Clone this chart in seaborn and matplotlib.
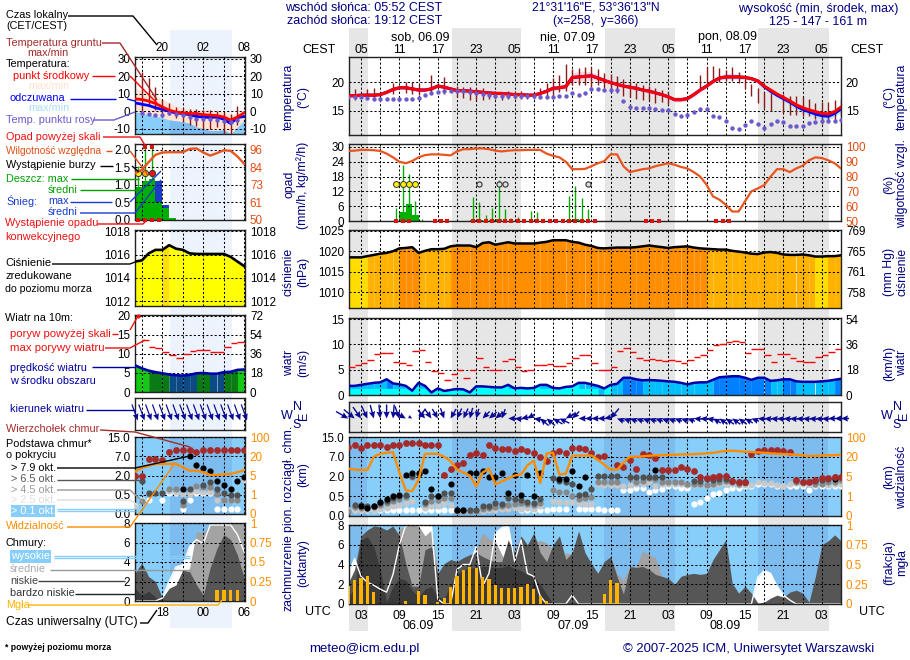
import numpy as np
import matplotlib
matplotlib.use("Agg")
import matplotlib.pyplot as plt
import seaborn as sns

sns.set_theme(style="white")
plt.rcParams["font.family"] = ["Liberation Sans", "DejaVu Sans"]
plt.rcParams["font.size"] = 9
plt.rcParams["axes.linewidth"] = 1.0

n = np.nan
W, H = 910, 660

# ------------------- main meteogram, hourly, hours from 06.09 00 UTC
hours = np.arange(1, 79)
temp = [17.6,17.6,17.7,17.7,17.7,17.8,18.2,18.7,19.0,19.0,
        18.8,18.6,18.6,18.8,19.3,19.1,18.8,18.5,18.5,18.4,
        18.3,18.2,18.1,18.0,18.0,17.9,17.8,17.8,17.7,17.7,
        18.0,18.4,18.9,19.0,19.2,20.8,20.9,21.0,21.1,20.7,
        20.3,19.9,19.6,19.3,19.1,18.9,18.6,18.4,18.1,17.8,
        17.4,16.9,16.9,17.1,17.8,18.6,19.3,20.1,20.7,20.9,
        20.9,20.9,20.8,20.6,20.2,19.3,18.6,17.9,17.3,16.7,
        16.0,15.5,15.1,14.8,14.5,14.4,14.8,15.6]
apparent = [17.6,17.6,17.7,17.7,17.7,17.8,18.2,18.7,19.0,19.0,
            18.8,18.6,18.6,18.8,19.3,19.1,18.8,18.5,18.5,18.4,
            18.3,18.2,18.1,18.0,18.0,17.9,17.8,17.8,17.7,17.7,
            18.0,18.4,18.9,19.0,19.2,20.8,20.9,21.0,21.1,20.7,
            20.3,19.9,19.6,19.3,19.1,18.9,18.6,18.4,18.1,17.8,
            17.4,16.9,16.9,17.1,17.8,18.6,19.3,20.1,20.7,20.9,
            20.9,20.9,20.8,20.6,20.2,19.2,18.4,17.7,17.1,16.5,
            15.8,15.2,14.8,14.4,14.1,14.0,14.5,15.3]
temp_hi = [17.9,18,18,18,18,18.1,18.6,19.1,19.4,19.4,
           19.2,19,19,19.2,19.7,19.5,19.2,18.9,18.9,18.8,
           18.7,18.6,18.5,18.3,18.3,18.2,18.1,18.1,18,18,
           18.3,18.8,19.3,19.4,19.8,21.6,21.9,21.9,21.8,21.3,
           20.8,20.4,20,19.7,19.5,19.3,19,18.8,18.5,18.2,
           17.8,17.4,17.4,17.5,18.2,19,19.7,20.5,21.2,21.5,
           21.5,21.4,21.3,21,20.5,19.6,18.9,18.2,17.6,17,
           16.3,15.9,15.5,15.2,14.9,14.8,15.2,16]
temp_lo = [17.3,17.3,17.4,17.4,17.4,17.5,17.9,18.4,18.7,18.7,
           18.5,18.3,18.3,18.5,19,18.8,18.5,18.2,18.2,18.1,
           18,17.9,17.8,17.7,17.7,17.6,17.5,17.5,17.4,17.4,
           17.7,18.1,18.5,18.6,18.8,20,20.1,20.2,20.4,20.1,
           19.7,19.4,19.2,18.9,18.7,18.5,18.2,18,17.7,17.4,
           17,16.5,16.5,16.7,17.4,18.2,18.9,19.7,20.3,20.5,
           20.5,20.5,20.4,20.2,19.8,18.9,18.1,17.3,16.6,15.9,
           15.2,14.6,14.2,13.8,13.5,13.4,13.9,14.8]
dewpoint = [17.4,17.4,17.3,17.2,17.1,17.0,17.0,17.0,17.0,17.0,
            17.1,17.2,17.8,18.0,18.3,18.4,18.5,18.5,18.4,18.2,
            18.0,17.9,17.7,17.5,17.5,17.5,17.5,17.5,17.5,17.5,
            17.4,17.4,17.4,17.5,17.6,18.0,17.7,18.0,18.7,18.7,
            18.6,18.6,18.6,16.6,15.6,15.5,15.5,15.4,15.2,15.1,
            15.1,14.4,14.1,14.3,14.7,15.2,15.2,14.0,13.8,13.2,
            12.0,11.7,12.5,13.2,12.6,12.0,12.6,13.2,13.0,12.2,
            12.3,12.2,12.8,13.0,13.1,13.2,13.2,13.4]
ground_hi = [n,18.8,n,18.8,18.9,n,n,19.9,n,20.0,
             20.0,19.6,n,21.3,n,20.8,n,19.3,19.2,19.1,
             19.0,18.9,18.5,18.4,18.3,18.4,18.4,18.4,18.1,18.2,
             19.0,19.8,20.7,21.3,23.2,22.3,22.5,22.6,22.7,22.3,
             21.6,21.5,21.0,20.5,20.0,19.8,19.5,19.3,18.9,18.6,
             18.3,n,n,n,n,21.2,22.6,22.9,22.5,22.2,
             22.6,21.7,20.3,19.6,18.9,18.2,18.0,n,17.9,17.6,
             17.5,17.3,17,16.4,16.5,16.5,16.8,17]
ground_lo = [n,16.9,n,17.0,17.1,n,n,17.9,n,18.0,
             17.9,17.7,n,18.0,n,17.9,n,17.4,17.2,16.9,
             16.9,16.9,17.0,17.0,16.9,17.0,17.1,17.1,17.0,17.1,
             17.2,17.4,17.6,18.2,18.5,19.5,19.5,19.4,19.2,19.4,
             19.0,18.4,18.0,17.5,17.3,17.0,16.9,16.8,16.4,16.5,
             16.2,n,n,n,n,19,19.3,20,20,20.1,
             20.2,19.9,19.0,17.6,16.3,15.5,15,n,14.5,14.2,
             14.2,14.1,14,13.5,12.7,12.9,13,14]

humidity = [97.3,97.5,98,98,97.8,97.3,95.5,93,90,89,
            90.5,93,94.5,95,95,94.7,94.3,97,98.5,98.5,
            99,99,98.5,97.5,97,97.5,97.8,97.8,98,98,
            98,95.5,94,93,90,85,85,85.2,87,89,
            90.4,95,95,87,83,84,85,85.5,87,88,
            89,88,86.5,85.5,83,80,74.5,66.6,64.4,61,
            56.4,56.4,63.3,70,72,74.2,80,85,85,83,
            85.5,87.3,91,93,92.5,91,89,85.5]
rain_max_hours = [8.5,9.5,10.5,11.5,12.5,20.5,21.5,22.5,23.5,24.5,25.5,26.5,27.5,
                  29.5,30.5,31.5,35.5,36.5,37.5,38.5]
rain_max = [5.3,22.8,19,8,1,9.8,7.7,2.5,5.3,16.5,5,1.3,1.5,
            4,3.7,0.8,10,14,9.3,5]
rain_mean_hours = [9.5,10.5,11.5,20.5,21.5,23.5,24.5,35.5,36.5,37.5]
rain_mean = [3.5,7,2.5,0.3,0.3,0.4,1,0.3,0.7,0.3]
conv_hours = [8.5,9.5,10.5,14.5,15.5,16.5,20.5,21.5,22.5,23.5,24.5,25.5,26.5,27.5,28.5,
              29.5,30.5,31.5,32.5,33.5,34.5,35.5,36.5,37.5,38.5,39.5,47.5,48.5,49.5,58.5,59.5,60.5]
storm_hours = [8.5,9.5,10.5,11.5]
storm_weak_hours = [21.5,24.5,25.5,38.5]

pressure = [1018.5,1018.5,1018.5,1018.8,1019.1,1019.4,1019.6,1020,1020.7,1020.8,
            1021,1019.6,1020.1,1020.5,1020.5,1020.6,1021.2,1021.4,1021.4,1021.4,
            1021,1022,1022.2,1021.6,1021.9,1022.2,1021.9,1021.9,1021.9,1021.9,
            1022.1,1022.3,1022.7,1022.7,1022.7,1022.3,1022.1,1021.6,1021.3,1020.8,
            1020.7,1020.8,1020.9,1020.9,1020.9,1021,1021.2,1021.4,1021.2,1021,
            1020.8,1021,1021.1,1021.2,1020.9,1020.7,1020.6,1020.5,1020.4,1020.4,
            1020.1,1019.9,1019.7,1019.4,1019.3,1019.7,1019.8,1019.6,1019.2,1019.1,
            1019.1,1019.2,1019,1018.7,1018.7,1018.8,1018.8,1019]

wind = [1.8,1.8,2,2.2,2.4,2.5,3.1,2.3,2.1,1.8,
        0.85,2.4,1.8,0.5,1.3,0.8,1,1.2,1.1,0.5,
        1.7,1.7,1.6,1.5,1.5,2,1.3,1.4,1.3,1.4,
        2,2,1.4,1.3,1.6,1.7,2.4,2.4,2.1,1.8,
        1.3,2,2.2,3.4,3.4,3.1,2.9,2.95,2.9,2.8,
        2.7,2.6,2.4,2.1,2.4,2.5,2.5,3,3.5,3.6,
        3.7,3.7,3.4,3,3.4,3.4,2.8,2.9,3.1,3.1,
        2.7,2.6,2.6,2.6,2.7,2.8,3,3.2]
gust = [5.5,5.9,6.3,7,8,8.3,8.3,6.6,6.4,5.9,
        8.6,8.8,6.6,4.7,4.3,2.9,4.1,4.9,3.3,5,
        7.4,5.5,4.9,4.9,6.8,7.2,5.5,4.7,4.9,6,
        6,6.2,5.7,5.7,6.4,7.4,7.8,7.8,6.4,4.9,
        4.9,5.5,8.6,9.2,8.4,7.4,7,7.2,7,6.8,
        7,6.8,6.4,7,7.6,7.8,8.8,9.8,10,10.4,
        10.6,10.4,8.2,9,9,7.8,6.6,8,8,7.4,
        6.8,6.6,6.6,7.6,7.8,8.4,9]
wind_dir = [300,310,325,335,345,355,0,5,340,300,
            300,35,320,325,330,340,30,25,25,15,
            15,45,50,50,20,90,95,80,60,100,
            130,130,120,115,60,45,90,90,90,90,
            80,40,110,110,110,110,110,110,110,110,
            110,110,110,110,95,95,100,120,125,125,
            125,125,120,110,95,95,95,95,95,95,
            95,95,95,95,95,90,90,90]
wind_len = [14,14,14,14,14,14,14,14,13,12,
            4,12,11,11,11,11,11,11,11,11,
            10,10,10,10,10,8,8,8,8,10,
            11,11,11,11,10,10,8,8,8,8,
            8,13,8,8,8,8,8,8,8,8,
            8,8,8,8,8,8,8,9,10,10,
            10,10,9,8,8,8,8,8,8,8,
            8,8,8,8,8,8,8,8]

# cloud base panel values are given in positions of its stepped scale (0..4 = 0, 0.5, 2, 7, 15 km)
cloud_top = [3.5,3.6,3.45,3.6,3.6,3.6,3.5,3.6,3.6,3.7,
             3.7,3.7,3.6,3.6,3.6,2.1,2.4,2.6,2.7,3.1,
             3.2,3.1,3.6,3.45,3.4,3.4,3.3,3.4,3.3,3.2,
             3,2.8,3.2,3.3,3.2,3.45,3.45,3.4,3.2,3,
             3.05,n,2.6,2.5,2.85,2.4,3.15,3.1,2.95,2.35,
             2.35,2.35,2.5,2.4,2.3,2,1.9,2,2.05,2.05,
             1.75,1.7,1.7,3.15,3.3,3.35,3.35,3.35,3.27,3.25,
             1.8,1.7,1.7,1.8,1.9,1.9,2,2]
base_black = [n,n,.5,.4,.5,.73,.85,1,1.07,2.1,
              2.2,2.2,2.3,1.36,1,n,1.6,.3,.3,2.2,
              2.2,2.3,2,2,2.2,1.15,2.1,1.07,2.1,1,
              2.2,n,n,1.85,1.85,2.3,1.5,2,n,n,
              n,n,n,n,n,n,n,n,2.35,n,
              n,n,n,n,n,n,n,n,n,n,
              n,n,n,n,n,n,n,n,n,n,
              n,n,n,n,n,n,1.85,n]
base_dark = [n,.55,.55,.5,.5,.65,.75,.9,1,1.05,
             2.05,2.15,.73,1.03,1,1.15,1.15,.28,.28,.28,
             .28,.5,.5,.65,.6,.9,.85,.8,.7,.65,
             .85,n,1.9,1.75,1.7,1.6,1.05,1.1,1.35,2.05,
             2.05,2.05,2.05,n,2,2,2,2,2,2,
             n,n,n,n,1.75,1.75,1.85,1.8,1.85,1.85,
             1.75,1.7,1.7,n,n,n,n,n,n,n,
             n,n,n,1.75,1.8,1.85,1.95,1.95]
base_grey = [.25,.45,.4,.4,.45,.55,.65,.75,.85,.95,
             2,n,.6,.75,.8,.9,.9,.25,.25,.25,
             .25,.35,.4,.45,.5,.55,.6,.65,.6,.55,
             .65,n,1.3,1.2,1.2,1,.85,.9,.95,1.7,
             1.7,1.7,1.7,n,1.9,1.7,1.75,1.9,1.85,1.7,
             1.7,1.7,1.7,1.6,1.6,1.6,1.55,1.6,1.7,1.75,
             1.7,1.6,1.65,n,n,n,n,n,n,n,
             1.7,1.7,1.75,1.6,1.6,1.7,1.7,1.8]
base_light = [.3,.3,.3,.3,.3,.35,.4,.5,.55,.65,
              .75,n,.4,.5,.5,.65,.55,.25,.25,.25,
              .25,.25,.3,.3,.35,.35,.4,.35,.4,.35,
              .5,n,.75,.7,.7,.7,.65,.6,.6,1.6,
              1.55,1.55,1.55,1.5,1.55,1.6,1.6,1.7,1.5,1.6,
              1.6,1.6,1.6,1.55,1.55,1.55,1.5,1.55,1.6,1.6,
              1.6,1.55,1.55,1.55,1.7,1.65,1.65,1.55,1.5,1.6,
              1.65,1.6,1.6,1.55,1.6,1.55,1.6,1.6]
base_white = [.3,.3,.3,.3,.3,.3,.3,.3,.3,.3,
              .3,.3,.3,.3,.3,.3,.3,n,n,n,
              n,n,n,n,n,n,n,.3,.3,.3,
              .3,.3,.35,.35,.35,n,.35,.35,.35,.35,
              .3,.3,.3,1.3,1.3,1.4,1.4,1.2,1.3,1.35,
              1.5,1.5,1.4,1.4,.6,.7,.9,1.1,1.15,1.3,
              1.4,1.4,1.5,1.5,1.6,1.6,1.6,1.5,1.5,1.5,
              1.5,1.5,1.3,1.5,1.5,1.5,1.5,1.53]
visibility = [2.4,2.35,2.33,2.33,3,3.15,3.2,3.23,2.2,1.3,
              1.26,1.84,3.15,3.15,3.15,3,2.77,2.35,2.2,2.05,
              1.5,2.2,2.4,1.6,1.75,1.9,2.05,2.1,2.57,2.8,
              1.67,3.17,3.2,2.1,2.14,3.06,3.06,3.06,3.06,2.85,
              2.6,2.35,2.35,2.7,3,3,3.02,3.05,3.07,3.08,
              3.1,3.1,3.12,3.12,3.13,3.15,3.17,3.2,3.25,3.3,
              3.3,3.28,3.26,3.24,3.22,3.2,3.17,3.15,3.14,3.12,
              3.1,3.08,3.03,3.05,3.06,3.07,3.08,3.1]

cloud_high = [3.0,4.6,2.8,2.2,1.9,1.5,1.2,3.0,6.0,8.0,
              8,8,8,8,0.5,0,0,3.5,4,4,
              5.8,1.8,3.1,7.2,7.7,8,4.3,6.5,3.1,2.8,
              0.8,0,0,0,0,0.9,0,0,0,0,
              0,0,0,0,0,0,0,0,0,0,
              0,0,0,0,0,0,0,0,0,0,
              0,0,0,0,2.7,3.4,3.1,1.8,0.9,0.4,
              0,0,0,0,0,0,0,0]
cloud_mid = [2,3,4,4,4,4,5,6,7.6,7.9,
             8,7.9,6.9,7.5,3.5,1,2,3,3.5,4,
             5.5,7.2,6.6,6.3,5,4,4,4,5.8,6.4,
             6.4,6.2,5.5,4,5.2,5,4.9,4.5,3.1,3.2,
             4,4.8,3.1,2.4,3.8,3.8,5.4,5,4.7,2.8,
             2.5,2,2.8,1,0,0,0,0,0,0,
             0,0,0,0,0,0,0,0,0,0,
             0,0,0,0,0,0,0,0]
cloud_low = [2.1,3.5,6.9,7.5,7.9,7.8,7.5,7.9,6.9,4.1,
             1.8,1.8,5.5,5.8,3.1,4.1,4.5,4.3,4.7,5,
             5.2,4.8,4.5,4.3,4.3,6.5,5.2,6.9,6,7.2,
             5.2,4.3,6,6.9,4.5,5.2,7.4,5.2,4.1,3.1,
             4.3,4.8,2.8,1,3.8,3.7,3.8,3.5,3,2.8,
             2.6,2,2.8,3,3.1,3,3.1,4.5,5.5,6.5,
             2.1,1.1,1.8,1.1,0.1,0.2,0.6,0.9,0.7,1.2,
             1.4,1.1,0.2,2.8,6,6.4,7,6.4]
cloud_vlow = [0.8,1.5,6.5,6.8,5.8,3.5,0.2,1.8,2.6,2.4,
              1.4,.7,1.5,1.8,.8,.5,2,3,3.5,3.6,
              3.7,3.8,3.8,3.7,3.7,3.9,3.6,3.4,3,2.8,
              2,1,0,0,0,0,0,0,0,0,
              0,0,0,0,0,0,0,0,0,0,
              0,0,0,0,0,0,0,0,0,0,
              0,0,0,0,0,0,0,0,0,0,
              0,0,0,0,0,0,0,0]
fog = [.23,.3,.33,.36,.15,0,0,0,0,.04,
       0,.16,.11,0,.03,.08,.22,.36,.43,.47,
       .46,.34,.32,.24,.2,.2,.2,.22,.25,.19,
       .1,.04,0,0,0,0,0,0,0,0,
       .13,.3,.26,0,0,0,0,0,0,0,
       0,0,0,0,0,0,0,0,0,0,
       0,0,0,0,0,0,0,0,0,0,
       0,0,0,0,0,0,0,0]

# ------------------- legend meteogram, hours 14..30
lhours = np.arange(14, 31)
l_temp = [7.1,6.7,5.8,4.4,2.5,.6,-.4,-1,-1.3,-1.3,-2,-2.2,-2.5,-3.3,-5,-3.3,-.8]
l_app = [4.8,4,3.3,2,1,0,-1,-1.3,-2,-3,-3.3,-3.6,-3.3,-4.6,-7,-3.6,-3]
l_temp_max = [13,12,11,9,7,5,3,2,1.5,1,1,.5,.5,0,-2,-1,.5]
l_app_min = [-.4,-1,-2,-3,-3.5,-5,-5.5,-6,-7,-9,-10,-11,-11,-10.5,-13,-9,-5]
l_dew = [n,-1,-1.7,-2.3,-2.3,-1,-1.3,-2.3,-3.3,-4.2,-4.6,-4.6,-5.2,-5.6,-6.2,-4.8,n]
l_ground_hi = [n,22.7,19,14,6.5,4.5,2.5,2,1.5,1.5,1,.5,0,-.5,-1.5,3,n]
l_ground_lo = [n,0,3.5,.5,-1,-2.3,-4,-6,-8,-8.5,-10,-10,-9,-13,-13,-8,n]
l_humidity = [80.7,83,88,92.8,94.3,94.5,94.5,94.5,96.7,97,94.3,92.3,93.9,95.8,95.4,91.7,86.8]
l_rain_hours = [14,15,16,17,18,19]
l_rain = [.95,1.1,1.17,.52,.33,.07]
l_snow_hours = [17,18]
l_snow_top = [1.1,.43]
l_snow_base = [.52,.33]
l_rain_max_hours = [14.5,15.5,16.5]
l_rain_max = [1.55,2.05,2.05]
l_over_hours = [15.5,16.5]
l_storm_hours = [14.5,15.5,16.5]
l_storm_colors = ["#ffee00", "#ffa500", "#ee1111"]
l_conv_hours = [14.5,15.5,16.5,17.5]
l_pressure = [1015.4,1015.5,1016.1,1016.4,1016.4,1016.8,1016.5,1016.4,1016.1,1016.05,1016.05,1016.05,1016.05,1016.05,1015.8,1015.4,1015]
l_wind = [7,6.2,5.6,5.2,4.9,4.6,4.4,4.3,4.5,4.9,5,4.8,4.8,5.2,5.3,5.8,5.9]
l_gust = [n,13.6,11.8,11.6,10.6,9.7,8.9,9.9,10.7,11,11,10.6,10.6,11.8,12.8,13.1]
l_dir = [340,340,340,340,340,340,340,340,340,340,340,340,340,340,340,340,340]
l_top = [2,2,2.85,2.85,2.8,3.23,3.3,3.3,3.3,3.23,3.3,3.3,3.3,3.3,3.3,3.3,3.3]
l_black = [n,n,n,n,n,n,n,1.28,3,2.55,2.37,2.25,1.7,1.5,1.28,1.7,1.9]
l_dark = [2,1.7,1.1,1.1,1.1,n,n,.65,1.28,n,1.5,1.65,1.3,1.1,1,1,n]
l_grey = [n,.65,1.05,n,n,1.28,1.28,.45,n,1.45,1.4,1.4,1.05,.72,.72,.72,n]
l_light = [.4,n,n,n,n,1.2,1.15,1.05,1.05,1.2,1.15,1.15,.72,.72,.72,.72,1.75]
l_white = [n,.72,.72,n,.75,1.1,1.1,.25,.72,1.1,1.1,1.1,.25,.25,.25,.25,n]
l_vis = [2.2,2.4,2.5,2.6,2.6,2.6,2.6,2.43,2.25,2.25,2.17,2.03,2.03,2.06,2.08,2.17,2.28]
l_high = [0,0,0,0,.3,2,3.5,3.7,5.6,6.3,5.9,7.8,7.8,7.8,7.8,6.8,5]
l_mid = [0,0,0,0,0,0,1.5,2,3.4,7.1,7,7.8,8,8,8,8,8]
l_low = [2.85,3.9,2.5,2,.3,1.3,1.65,3.2,3,1.65,.6,3.4,5.4,6.8,6.3,4.7,2.3]
l_vlow = [1.3,.6,1,.4,0,0,0,0,0,0,0,0,0,0,0,0,0]
l_fog = [0,0,0,0,0,0,0,0,0,0,0,0,.14,.14,.14,.14,0]

# ------------------- ticks
cest_labels = ["05","11","17","23","05","11","17","23","05","11","17","23","05"]
utc_labels = ["03","09","15","21","03","09","15","21","03","09","15","21","03"]
label_hours = np.arange(3, 78, 6)
minor_hours = np.arange(6, 78, 6)
l_label_hours = [18, 24, 30]
l_minor_hours = [15, 21, 27]

NAVY = "#000080"
ORANGE = "#ff8c00"
RHCOL = "#e04e14"
SKY = "#87cefa"
SKY_NIGHT = "#7cbcee"
DUSK = "#6a5acd"
GROUND = "#8b1a1a"
TOPRED = "#a52a2a"
DASH = (0, (2, 2))
TICK = 8.4
HEAD = 9.0

fig = plt.figure(figsize=(W / 100, H / 100), dpi=100, facecolor="white")


def pixel_axes(x0, y0, x1, y1, z=1):
    return fig.add_axes([x0 / W, 1 - y1 / H, (x1 - x0) / W, (y1 - y0) / H], zorder=z)


def panel(box, xlim, ylim, yticks, ylabels, rlim, rticks, rlabels, rcolor, majors, minors, z=1):
    ax = pixel_axes(*box, z=z)
    ax.set_facecolor("none")
    ax.set_xlim(*xlim)
    ax.set_ylim(*ylim)
    ax.set_xticks(majors)
    ax.set_xticks(minors, minor=True)
    ax.set_yticks(yticks, ylabels)
    ax.tick_params(which="both", length=0, labelbottom=False, pad=3.5, labelsize=TICK, colors="black")
    ax.grid(True, which="both", color="black", linestyle=DASH, linewidth=0.75)
    ax.set_axisbelow(False)
    for s in ax.spines.values():
        s.set_color("#222222")
    tw = ax.twinx()
    tw.set_facecolor("none")
    tw.set_ylim(*rlim)
    tw.set_yticks(rticks, rlabels)
    tw.tick_params(length=0, pad=3.5, labelsize=TICK, labelcolor=rcolor)
    tw.grid(False)
    for s in tw.spines.values():
        s.set_visible(False)
    return ax, tw


def line(ax, x, y, color, lw, z=3):
    sns.lineplot(x=x, y=y, ax=ax, color=color, linewidth=lw, estimator=None, errorbar=None, zorder=z)


def dots(ax, x, y, color, size=20, z=4, **kw):
    sns.scatterplot(x=x, y=y, ax=ax, color=color, s=size, linewidth=0, zorder=z, legend=False, **kw)


def area_steps(ax, x, y, base, colors):
    # one trapezoid per hour, coloured by class of its first value
    for i in range(len(x) - 1):
        ax.fill_between(x[i:i + 2], y[i:i + 2], base, color=colors[i], linewidth=0, zorder=2, antialiased=False)


# ------------------- page background with night bands
bg = pixel_axes(0, 0, W, H, z=-1)
bg.set_xlim(0, W)
bg.set_ylim(H, 0)
bg.axis("off")
for a, b in [(349, 368), (452, 521), (605, 675), (758, 829)]:
    bg.axvspan(a, b, ymin=1 - 631 / H, ymax=1 - 28 / H, color="#e6e6e6", linewidth=0)
bg.axvspan(170, 232, ymin=1 - 628 / H, ymax=1 - 30 / H, color="#ecf3fd", linewidth=0)

main_xlim = (1.125, 78)
left_xlim = (14, 30.1)
night_main = [(1.125, 4), (17.2, 28), (41, 52), (65, 76)]
night_left = [(19.1, 28.2)]


def draw_temp(ax, x, t, a, gh, gl, dew, mid_w):
    ax.vlines(x, gl, gh, color=GROUND, linewidth=1, zorder=3)
    line(ax, x, a, "#0000ff", mid_w, z=4)
    line(ax, x, t, "#ff0000", mid_w, z=5)
    dots(ax, x, dew, DUSK, size=10, z=6)


def draw_base(ax, x, top, black, dark, grey, light, white, vis):
    ax.set_facecolor(SKY)
    dots(ax, x, white, "white")
    dots(ax, x, light, "#c8c8c8")
    dots(ax, x, grey, "#888888")
    dots(ax, x, dark, "#505050")
    dots(ax, x, black, "black")
    dots(ax, x, top, TOPRED, 24)
    line(ax, x, vis, ORANGE, 1.7, z=5)


def draw_clouds(ax, tw, x, high, mid, low, vlow, fg):
    ax.set_facecolor(SKY)
    ax.fill_between(x, high, 0, color="white", linewidth=0, zorder=1)
    ax.fill_between(x, mid, 0, color="#a3a3a3", linewidth=0, zorder=1.2)
    ax.fill_between(x, low, 0, color="#565656", linewidth=0, zorder=1.4)
    ax.fill_between(x, vlow, 0, color="#3a3a3a", linewidth=0, zorder=1.6)
    line(ax, x, high, "white", 1.0, z=2)
    tw.bar(x, fg, width=0.5, color="#ffb300", linewidth=0, zorder=5)


# ------------------- main panels
mx = dict(xlim=main_xlim, majors=label_hours, minors=minor_hours)

ax, tw = panel((349, 57, 841, 135), ylim=(10.7, 24.4), yticks=[15, 20], ylabels=["15", "20"],
               rlim=(10.7, 24.4), rticks=[15, 20], rlabels=["15", "20"], rcolor="black", **mx)
ax.fill_between(hours, temp_lo, temp_hi, color="#ffd6dc", linewidth=0, zorder=2)
ax.fill_between(hours[65:], temp_lo[65:], apparent[65:], color="#b8e4fa", linewidth=0, zorder=2.1)
draw_temp(ax, hours, temp, apparent, ground_hi, ground_lo, dewpoint, 2.2)
ax.xaxis.tick_top()
ax.set_xticks(label_hours, cest_labels)
ax.tick_params(axis="x", labeltop=True, labelbottom=False, pad=1, labelsize=8.8)

ax, tw = panel((349, 144, 841, 221), ylim=(0, 31.2), yticks=[0, 6, 12, 18, 24, 30],
               ylabels=["0", "6", "12", "18", "24", "30"],
               rlim=(50, 102), rticks=[50, 60, 70, 80, 90, 100],
               rlabels=["50", "60", "70", "80", "90", "100"], rcolor=RHCOL, **mx)
ax.bar(rain_mean_hours, rain_mean, width=1, color="#00b000", linewidth=0, zorder=2)
ax.vlines(rain_max_hours, 0, rain_max, color="#00b000", linewidth=1, zorder=2)
dots(ax, conv_hours, np.zeros(len(conv_hours)), "#e01010", size=9, marker="s", clip_on=False)
sns.scatterplot(x=storm_hours, y=[15] * 4, ax=ax, color="#ffee00", edgecolor="#333333", s=18, linewidth=0.7, zorder=5, legend=False)
sns.scatterplot(x=storm_weak_hours, y=[15] * 4, ax=ax, color="#dddddd", edgecolor="#333333", s=14, linewidth=0.8, zorder=5, legend=False)
line(tw, hours, humidity, "#e8551f", 1.6, z=6)

ax, tw = panel((349, 230, 841, 308), ylim=(1006.1, 1025.2), yticks=[1010, 1015, 1020, 1025],
               ylabels=["1010", "1015", "1020", "1025"], rlim=(1006.1, 1025.2), rticks=[1010, 1015, 1020, 1025],
               rlabels=["758", "761", "765", "769"], rcolor="black", **mx)
p_colors = ["#ffdd00" if v < 1018.8 else "#ffb300" if v < 1020.65 else "#ff8f00" for v in pressure]
area_steps(ax, hours, pressure, 1006.1, p_colors)
line(ax, hours, pressure, "black", 1.8, z=5)

ax, tw = panel((349, 318, 841, 395), ylim=(0, 15.2), yticks=[0, 5, 10, 15], ylabels=["0", "5", "10", "15"],
               rlim=(0, 15.2), rticks=[0, 5, 10, 15], rlabels=["0", "18", "36", "54"], rcolor="black", **mx)
w_colors = ["#00ffff" if v < 1.75 else "#00bfff" if v < 3 else "#0080ff" for v in wind]
area_steps(ax, hours, wind, 0, w_colors)
ax.fill_between(hours[:40], np.minimum(wind[:40], 1.3), 0, color="#00ffff", linewidth=0, zorder=2.2)
line(ax, hours, wind, "#0000a8", 1.8, z=5)
ax.hlines(gust, hours[:-1], hours[1:], color="#ff0000", linewidth=1, zorder=4)

ax, tw = panel((349, 402, 841, 432), ylim=(0, 1), yticks=[], ylabels=[],
               rlim=(0, 1), rticks=[], rlabels=[], rcolor="black", **mx)
rad = np.radians(wind_dir)
ax.quiver(hours, np.full(78, 0.45), -np.sin(rad) * wind_len, -np.cos(rad) * wind_len, angles="uv",
          scale_units="dots", scale=1, units="dots", width=1.4, headwidth=4.5, headlength=5,
          headaxislength=4.5, pivot="tip", color="#0a0a96", clip_on=False, zorder=4)

ax, tw = panel((349, 437, 841, 516), ylim=(0, 4), yticks=[0, 1, 2, 3, 4],
               ylabels=["0.0", "0.5", "2.0", "7.0", "15.0"], rlim=(0, 4), rticks=[0, 1, 2, 3, 4],
               rlabels=["0", "1", "5", "20", "100"], rcolor=ORANGE, **mx)
draw_base(ax, hours, cloud_top, base_black, base_dark, base_grey, base_light, base_white, visibility)
for a, b in night_main:
    ax.axvspan(a, b, color=SKY_NIGHT, linewidth=0, zorder=0.5)

ax, tw = panel((349, 525, 841, 604), ylim=(0, 8), yticks=[0, 2, 4, 6, 8], ylabels=["0", "2", "4", "6", "8"],
               rlim=(0, 1), rticks=[0, .25, .5, .75, 1], rlabels=["0", "0.25", "0.5", "0.75", "1"], rcolor=ORANGE, **mx)
draw_clouds(ax, tw, hours, cloud_high, cloud_mid, cloud_low, cloud_vlow, fog)
for a, b in night_main:
    ax.axvspan(a, b, color=SKY_NIGHT, linewidth=0, zorder=0.5)
ax.set_xticks(label_hours, utc_labels)
ax.tick_params(axis="x", labelbottom=True, pad=4, labelsize=8.8)

# ------------------- legend panels
lx = dict(xlim=left_xlim, majors=l_label_hours, minors=l_minor_hours)

ax, tw = panel((135, 57, 245, 134), ylim=(-13, 31), yticks=[-10, 0, 10, 20, 30], ylabels=["-10", "0", "10", "20", "30"],
               rlim=(-13, 31), rticks=[-10, 0, 10, 20, 30], rlabels=["-10", "0", "10", "20", "30"], rcolor="black", **lx)
ax.fill_between(lhours, l_temp_max, -13, color="#ffe4d6", linewidth=0, zorder=1.5)
ax.fill_between(lhours, l_app_min, -13, color=SKY, linewidth=0, zorder=1.6)
mask = (lhours >= 19) & (lhours <= 28)
ax.fill_between(lhours[mask], np.array(l_app_min)[mask], -13, color=SKY_NIGHT, linewidth=0, zorder=1.7)
draw_temp(ax, lhours, l_temp, l_app, l_ground_hi, l_ground_lo, l_dew, 2.0)
ax.xaxis.tick_top()
ax.set_xticks(l_label_hours, ["20", "02", "08"])
ax.tick_params(axis="x", labeltop=True, labelbottom=False, pad=2)

ax, tw = panel((135, 144, 245, 220), ylim=(0, 2.17), yticks=[0, .5, 1, 1.5, 2],
               ylabels=["0.0", "0.5", "1.0", "1.5", "2.0"], rlim=(50, 99.9), rticks=[50, 61.5, 73, 84.5, 96],
               rlabels=["50", "61", "73", "84", "96"], rcolor=RHCOL, **lx)
ax.bar(l_rain_hours, l_rain, width=1, align="edge", color="#00b000", linewidth=0, zorder=2)
ax.bar(l_snow_hours, np.array(l_snow_top) - np.array(l_snow_base), bottom=l_snow_base, width=1, align="edge",
       color="#1a3cc8", linewidth=0, zorder=2)
ax.vlines(l_rain_max_hours, 0, l_rain_max, color="#00b000", linewidth=1, zorder=2)
dots(ax, l_over_hours, [2.09, 2.09], "#e01010", size=10, marker="s")
dots(ax, l_conv_hours, np.zeros(4), "#e01010", size=5, marker="s", clip_on=False)
for hx, c in zip(l_storm_hours, l_storm_colors):
    sns.scatterplot(x=[hx], y=[1.33], ax=ax, color=c, edgecolor="#333333", s=20, linewidth=0.7, zorder=6, legend=False)
line(tw, lhours, l_humidity, "#e8551f", 1.7, z=6)

ax, tw = panel((135, 230, 245, 306), ylim=(1011.6, 1018.1), yticks=[1012, 1014, 1016, 1018],
               ylabels=["1012", "1014", "1016", "1018"], rlim=(1011.6, 1018.1), rticks=[1012, 1014, 1016, 1018],
               rlabels=["1012", "1014", "1016", "1018"], rcolor="black", **lx)
lp_colors = ["#ffe000" if h == 18 else "#ffff00" for h in lhours]
area_steps(ax, lhours, l_pressure, 1011.6, lp_colors)
line(ax, lhours, l_pressure, "black", 1.9, z=5)

ax, tw = panel((135, 315, 245, 392), ylim=(0, 20.2), yticks=[0, 5, 10, 15, 20], ylabels=["0", "5", "10", "15", "20"],
               rlim=(0, 20.2), rticks=[0, 5, 10, 15, 20], rlabels=["0", "18", "36", "54", "72"], rcolor="black", **lx)
lw_colors = ["#14c814" if v >= 5.8 else "#0a7a14" if v >= 4.85 else "#0c4a86" for v in l_wind]
area_steps(ax, lhours, l_wind, 0, lw_colors)
line(ax, lhours, l_wind, "#0000a8", 1.9, z=5)
ax.hlines(l_gust, lhours[:-1], lhours[1:], color="#ff0000", linewidth=1, zorder=4)
dots(ax, [14.4], [19.9], "#ee1111", size=9, clip_on=False)

ax, tw = panel((135, 398, 245, 430), ylim=(0, 1), yticks=[], ylabels=[], rlim=(0, 1), rticks=[], rlabels=[], rcolor="black", **lx)
rad = np.radians(l_dir)
ax.quiver(lhours + 0.4, np.full(17, 0.3), -np.sin(rad) * 17, -np.cos(rad) * 17, angles="uv", scale_units="dots",
          scale=1, units="dots", width=1.2, headwidth=5, headlength=5.5, headaxislength=5, pivot="tip",
          color="#0a0a96", clip_on=False, zorder=4)

ax, tw = panel((135, 437, 245, 514), ylim=(0, 4), yticks=[0, 1, 2, 3, 4], ylabels=["0.0", "0.5", "2.0", "7.0", "15.0"],
               rlim=(0, 4), rticks=[0, 1, 2, 3, 4], rlabels=["0", "1", "5", "20", "100"], rcolor=ORANGE, **lx)
draw_base(ax, lhours, l_top, l_black, l_dark, l_grey, l_light, l_white, l_vis)
for a, b in night_left:
    ax.axvspan(a, b, color=SKY_NIGHT, linewidth=0, zorder=0.5)

ax, tw = panel((135, 523, 245, 601), ylim=(0, 8), yticks=[0, 2, 4, 6, 8], ylabels=["0", "2", "4", "6", "8"],
               rlim=(0, 1), rticks=[0, .25, .5, .75, 1], rlabels=["0", "0.25", "0.5", "0.75", "1"], rcolor=ORANGE, **lx)
draw_clouds(ax, tw, lhours, l_high, l_mid, l_low, l_vlow, l_fog)
for a, b in night_left:
    ax.axvspan(a, b, color=SKY_NIGHT, linewidth=0, zorder=0.5)
ax.set_xticks(l_label_hours, ["18", "00", "06"])
ax.tick_params(axis="x", labelbottom=True, pad=4)

# ------------------- overlay for text and connector lines, in pixels
page = pixel_axes(0, 0, W, H, z=10)
page.set_xlim(0, W)
page.set_ylim(H, 0)
page.axis("off")
page.patch.set_alpha(0)


def txt(x, y, s, color="black", ha="left", size=7.8, **kw):
    page.text(x, y, s, color=color, ha=ha, va="center", fontsize=size, **kw)


def conn(xs, ys, color, lw=1):
    page.plot(xs, ys, color=color, linewidth=lw, solid_capstyle="butt")


# header and footer
txt(285, 8, "wschód słońca: 05:52 CEST", NAVY, size=HEAD)
txt(287, 21, "zachód słońca: 19:12 CEST", NAVY, size=HEAD)
txt(596, 8, "21°31'16\"E, 53°36'13\"N", NAVY, ha="center", size=8.7)
txt(596, 21, "(x=258,  y=366)", NAVY, ha="center", size=8.7)
txt(818, 9, "wysokość (min, środek, max)", NAVY, ha="center", size=8.9)
txt(818, 22, "125 - 147 - 161 m", NAVY, ha="center", size=8.9)
txt(420, 37, "sob, 06.09", ha="center", size=HEAD)
txt(567, 37, "nie, 07.09", ha="center", size=HEAD)
txt(727, 37, "pon, 08.09", ha="center", size=HEAD)
txt(319, 50, "CEST", ha="center", size=HEAD)
txt(867, 50, "CEST", ha="center", size=HEAD)
txt(318, 612, "UTC", ha="center", size=HEAD)
txt(872, 612, "UTC", ha="center", size=HEAD)
txt(418, 626, "06.09", ha="center", size=HEAD)
txt(573, 626, "07.09", ha="center", size=HEAD)
txt(725, 626, "08.09", ha="center", size=HEAD)
txt(309, 649, "meteo@icm.edu.pl", NAVY, size=9.5)
txt(623, 649, "© 2007-2025 ICM, Uniwersytet Warszawski", NAVY, size=9.4)
txt(5, 648, "* powyżej poziomu morza", size=6.2, weight="bold")

# rotated panel titles
rot_left = [(289, 97, "temperatura"), (303, 97, "(°C)"), (289, 184, "opad"), (303, 185, "(mm/h, kg/m²/h)"),
            (289, 272, "ciśnienie"), (303, 272, "(hPa)"), (289, 363, "wiatr"), (303, 363, "(m/s)"),
            (289, 479, "pion. rozciągł. chm."), (303, 475, "(km)"), (289, 573, "zachmurzenie"), (303, 563, "(oktanty)")]
rot_right = [(902, 97, "temperatura"), (889, 97, "(°C)"), (902, 184, "wilgotność wzgl."), (889, 184, "(%)"),
             (902, 272, "ciśnienie"), (889, 272, "(mm Hg)"), (902, 363, "wiatr"), (889, 363, "(km/h)"),
             (902, 477, "widzialność"), (889, 477, "(km)"), (902, 563, "mgła"), (889, 563, "(frakcja)")]
for x, y, s in rot_left + rot_right:
    page.text(x, y, s, color=NAVY, ha="center", va="center", rotation=90, fontsize=8.8)

# compass marks beside the wind direction strip
for ox in (0, 600):
    page.text(287 + ox, 416, "W", color=NAVY, ha="center", va="center", fontsize=9)
    page.text(298 + ox, 407, "N", color=NAVY, ha="center", va="center", fontsize=9)
    page.text(304 + ox, 416, "E", color=NAVY, ha="center", va="center", fontsize=9, rotation=90)
    page.text(297 + ox, 425, "S", color=NAVY, ha="center", va="center", fontsize=9)

# description of the legend panels
RED = "#ee1111"
GREEN = "#00a000"
BLUE2 = "#1a3cd0"
txt(6, 15, "Czas lokalny")
txt(6, 26, "(CET/CEST)")
conn([68, 133, 157], [16, 16, 45], "black")
txt(6, 43, "Temperatura gruntu", TOPRED)
txt(27, 53, "max/min", TOPRED)
conn([102, 120, 157], [43, 43, 100], TOPRED)
txt(6, 64, "Temperatura:")
txt(13, 76, "punkt środkowy", "#ff0000")
conn([92, 115], [76, 76], "#ff0000")
conn([130, 157], [76, 103], "#ff0000")
txt(28, 86, "max/min", "#ffe0d2")
txt(10, 98, "odczuwana", "#0000ff")
conn([70, 116], [99, 99], "#0000ff")
conn([127, 135], [99, 101], "#0000ff")
txt(28, 108, "max/min", "#a8dcf8")
txt(6, 120, "Temp. punktu rosy", DUSK)
conn([93, 114, 135], [120, 120, 112], DUSK)
txt(6, 137, "Opad powyżej skali", RED)
conn([103, 140, 146], [137, 137, 147], RED)
txt(6, 151, "Wilgotność względna", RHCOL, size=7.3)
conn([106, 112], [151, 151], RHCOL)
conn([130, 148], [151, 175], RHCOL)
txt(6, 165, "Wystąpienie burzy")
conn([100, 113], [166, 166], "black")
conn([132, 139], [166, 172], "black")
txt(6, 179, "Deszcz: max", GREEN)
conn([71, 139], [179, 179], GREEN)
txt(48, 190, "średni", GREEN)
conn([80, 139], [190, 190], GREEN)
txt(6, 201, "Śnieg:", BLUE2)
txt(48, 201, "max", BLUE2)
conn([70, 112], [202, 202], BLUE2)
conn([130, 161], [202, 171], BLUE2)
txt(48, 212, "średni", BLUE2)
conn([80, 135, 161], [213, 213, 180], BLUE2)
txt(5, 223, "Wystąpienie opadu", RED)
txt(5, 237, "konwekcyjnego", RED)
conn([97, 143, 147], [224, 224, 220], RED)
txt(5, 263, "Ciśnienie", size=8)
txt(5, 276, "zredukowane", size=8)
txt(5, 289, "do poziomu morza", size=7.6)
conn([52, 130, 135], [264, 264, 262], "black")
txt(5, 318, "Wiatr na 10m:")
txt(10, 334, "poryw powyżej skali", RED, size=8.2)
conn([112, 118], [334, 334], RED)
conn([130, 138], [330, 316], RED)
txt(10, 348, "max porywy wiatru", RED, size=8.2)
conn([105, 130, 145], [348, 348, 340], RED)
txt(10, 368, "prędkość wiatru", "#0000a0")
txt(10, 381, "w środku obszaru", "#0000a0")
conn([92, 135], [367, 367], "#0000a0")
txt(10, 409, "kierunek wiatru", "#0000a0")
conn([86, 135], [410, 410], "#0000a0")
txt(6, 429, "Wierzchołek chmur", TOPRED)
conn([100, 135, 190], [430, 432, 447], TOPRED)
txt(6, 444, "Podstawa chmur*")
txt(6, 455, "o pokryciu")
txt(11, 468, "> 7.9 okt.")
conn([57, 135, 190], [468, 468, 456], "black")
txt(11, 479, "> 6.5 okt.", "#555555")
conn([57, 143], [480, 480], "#555555")
txt(11, 490, "> 4.5 okt.", "#999999")
conn([57, 130, 143], [490, 490, 502], "#999999")
txt(11, 500, "> 2.5 okt.", "#dddddd")
conn([57, 130, 138], [500, 500, 505], "#dddddd")
page.fill_between([11, 55], 505, 517, color=SKY, linewidth=0)
txt(11, 511, "> 0.1 okt.", "white")
conn([57, 135], [509, 509], SKY)
conn([57, 135], [511, 511], SKY)
txt(6, 526, "Widzialność", ORANGE)
conn([67, 130, 175], [527, 527, 463], ORANGE)
txt(6, 543, "Chmury:")
page.fill_between([10, 51], 550, 563, color=SKY, linewidth=0)
txt(11, 556, "wysokie", "white")
conn([54, 190], [556, 556], SKY)
conn([54, 190], [558, 558], SKY)
txt(10, 569, "średnie", "#aaaaaa")
conn([50, 192], [570, 570], "#999999")
txt(10, 581, "niskie", "#444444")
conn([38, 125], [581, 581], "#444444")
txt(10, 593, "bardzo niskie", "#333333")
conn([75, 135], [594, 594], "#222222")
txt(6, 605, "Mgła", "#ffb300")
conn([28, 218, 222], [605, 605, 600], "#ffb300")
txt(6, 622, "Czas uniwersalny (UTC)", size=8.7)
conn([140, 148, 157], [623, 623, 610], "black")

fig.savefig("out.png", dpi=100)
